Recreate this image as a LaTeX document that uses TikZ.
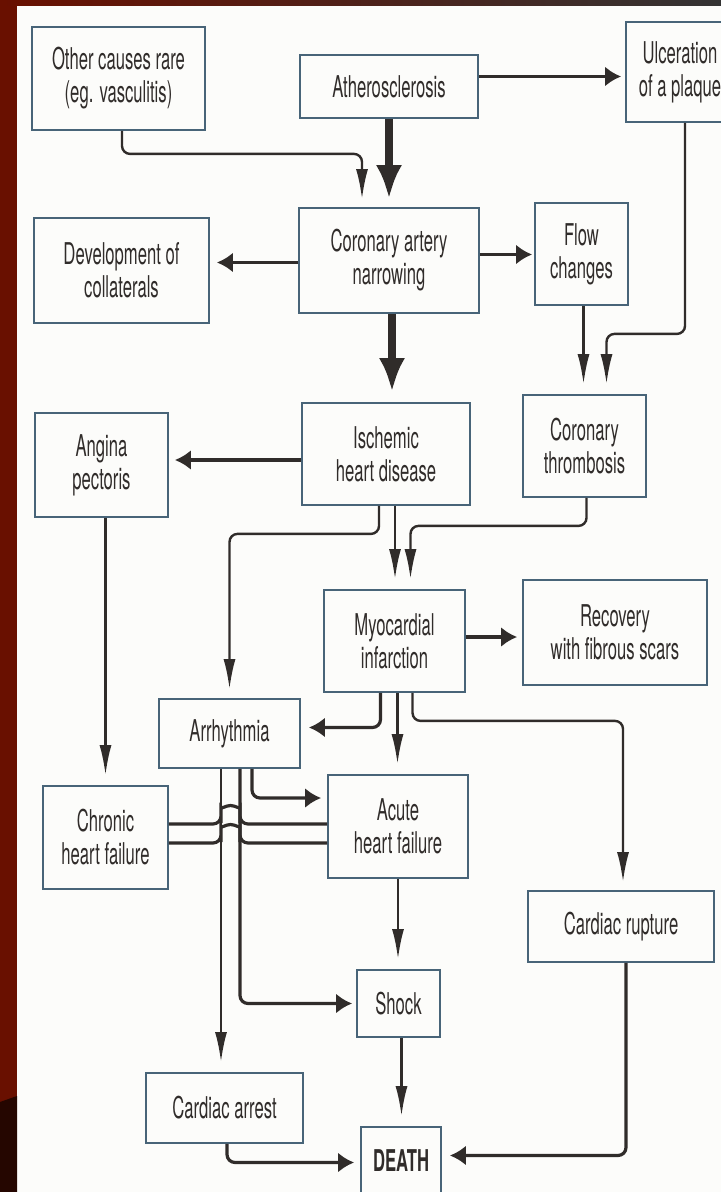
\documentclass[tikz,border=0pt]{standalone}
\usepackage{fontspec}
\setmainfont{TeX Gyre Heros}[FakeStretch=0.555]
\usepackage{tikz}
\usetikzlibrary{arrows.meta}

\definecolor{boxline}{RGB}{72,100,120}
\definecolor{ink}{RGB}{48,44,42}
\definecolor{slide}{RGB}{105,16,0}
\definecolor{paper}{RGB}{252,252,250}

\begin{document}
\begin{tikzpicture}[x=0.5pt,y=-0.5pt,font=\fontsize{15}{16.5}\selectfont,
  box/.style={draw=boxline,line width=0.9pt,fill=paper,inner sep=0pt,align=center,text=ink},
  link/.style={draw=ink,line width=1.2pt,rounded corners=4pt},
  vtip/.style={link,-{Latex[length=15pt,width=6pt]}},
  htip/.style={link,line width=1.6pt,-{Latex[length=8pt,width=10pt]}},
  bigtip/.style={draw=ink,line width=4pt,-{Latex[length=17pt,width=13pt]}}]
% page and slide frame
\clip (0,0) rectangle (721,1192);
\fill[paper] (0,0) rectangle (721,1192);
\fill[slide] (0,0) rectangle (17,1192);
\fill[slide!35!black] (0,1102) -- (17,1096) -- (17,1192) -- (0,1192) -- cycle;
\shade[left color=slide,right color=black!80] (0,0) rectangle (721,6);
% causes
\node[box,minimum width=86.5pt,minimum height=51.5pt] (oth) at (118.5,78.5) {Other causes rare\\(eg. vasculitis)};
\node[box,minimum width=89pt,minimum height=31.5pt] (ath) at (389,86.5) {Atherosclerosis};
\node[box,minimum width=54pt,minimum height=50pt] (ulc) at (680,72) {Ulceration\\of a plaque};
\node[box,minimum width=87.5pt,minimum height=52.5pt] (dev) at (121.5,270.5) {Development of\\collaterals};
\node[box,minimum width=90pt,minimum height=52.5pt] (can) at (389,260.5) {Coronary artery\\narrowing};
\node[box,minimum width=46.5pt,minimum height=51pt] (flow) at (581.5,254) {Flow\\changes};
% disease
\node[box,minimum width=66.5pt,minimum height=52pt] (ang) at (101.5,465) {Angina\\pectoris};
\node[box,minimum width=84pt,minimum height=51pt] (ihd) at (386,454) {Ischemic\\heart disease};
\node[box,minimum width=61.5pt,minimum height=51pt] (thr) at (584.5,446) {Coronary\\thrombosis};
\node[box,minimum width=70.5pt,minimum height=51pt] (mi) at (394.5,641) {Myocardial\\infarction};
\node[box,minimum width=92pt,minimum height=52.5pt] (rec) at (615,632.5) {Recovery\\with fibrous scars};
% outcomes
\node[box,minimum width=70.5pt,minimum height=34.5pt] (arr) at (229.5,733.5) {Arrhythmia};
\node[box,minimum width=62.5pt,minimum height=51.5pt] (chr) at (105.5,837.5) {Chronic\\heart failure};
\node[box,minimum width=70pt,minimum height=51.5pt] (ahf) at (398,826.5) {Acute\\heart failure};
\node[box,minimum width=93pt,minimum height=35.5pt] (rup) at (621,926.5) {Cardiac rupture};
\node[box,minimum width=41.5pt,minimum height=33.5pt] (shk) at (398.5,1003.5) {Shock};
\node[box,minimum width=78.5pt,minimum height=35pt] (arrst) at (224.5,1108) {Cardiac arrest};
\node[box,minimum width=40pt,minimum height=33.5pt] (dth) at (401,1160.5) {\bfseries DEATH};
% arrows, top part
\draw[bigtip,shorten >=4pt] (ath.south) -- (ath.south |- can.north);
\draw[vtip,shorten >=4pt] ([xshift=1.75pt]oth.south) -- ++(0,23) -| ([xshift=-13.5pt]can.north);
\draw[htip,shorten >=2pt] ([yshift=5pt]ath.east) -- ([yshift=5pt]ath.east -| ulc.west);
\draw[htip,shorten >=3.5pt] ([yshift=-1pt]can.west) -- ([yshift=-1pt]can.west -| dev.east);
\draw[htip,shorten >=1pt] ([yshift=3pt]can.east) -- ([yshift=3pt]can.east -| flow.west);
\draw[bigtip,shorten >=5pt] ([xshift=1.5pt]can.south) -- ([xshift=1.5pt]can.south |- ihd.north);
\draw[vtip,shorten >=5pt] ([xshift=1pt]flow.south) -- ([xshift=1pt]flow.south |- thr.north);
\draw[vtip,shorten >=5pt] ([xshift=2.5pt]ulc.south) -- ++(0,211) -| ([xshift=11pt]thr.north);
\draw[htip,shorten >=3pt] ([yshift=-3pt]ihd.west) -- ([yshift=-3pt]ihd.west -| ang.east);
\draw[vtip,shorten >=4.5pt] ([xshift=-3.5pt]ihd.south) -- ++(0,28) -| (arr.north);
\draw[vtip,shorten >=5pt] ([xshift=4.5pt]ihd.south) -- ([xshift=4.5pt]ihd.south |- mi.north);
\draw[vtip,shorten >=5pt] ([xshift=1pt]thr.south) -- ++(0,28) -| ([xshift=8pt]mi.north);
\draw[vtip,shorten >=5pt] ([xshift=2pt]ang.south) -- ([xshift=2pt]ang.south |- chr.north);
% arrows from the infarction
\draw[htip,shorten >=2.5pt] ([yshift=2pt]mi.east) -- ([yshift=2pt]mi.east -| rec.west);
\draw[htip,shorten >=4pt] ([xshift=-7pt]mi.south) |- ([yshift=3pt]arr.east);
\draw[vtip,shorten >=5pt] ([xshift=1.5pt]mi.south) -- ([xshift=1.5pt]mi.south |- ahf.north);
\draw[vtip,shorten >=4pt] ([xshift=9pt]mi.south) -- ++(0,28) -| ([xshift=1pt]rup.north);
% arrhythmia and heart failure
\coordinate (vL) at ([xshift=-4.25pt]arr.south);
\coordinate (vR) at ([xshift=5.25pt]arr.south);
\draw[vtip,shorten >=5pt] (vL) -- (vL |- arrst.north);
\draw[htip,shorten >=2pt] (vR) |- (shk.west);
\draw[htip,shorten >=3pt] ([xshift=11.25pt]arr.south) |- ([yshift=14.25pt]ahf.west);
\coordinate (hA) at ([yshift=6.75pt]chr.east);
\coordinate (hB) at ([yshift=-2.75pt]chr.east);
\draw[link,line width=1.6pt] (hA) -- (hA -| vL) -- ++(0,-9) arc[start angle=180,end angle=360,radius=9.5] -- ++(0,9) -- (hA -| ahf.west);
\draw[link,line width=1.6pt] (hB) -- (hB -| vL) -- ++(0,-9) arc[start angle=180,end angle=360,radius=9.5] -- ++(0,9) -- (hB -| ahf.west);
% to death
\draw[vtip,shorten >=5pt] (ahf.south) -- (ahf.south |- shk.north);
\draw[vtip,shorten >=5pt] ([xshift=1.5pt]shk.south) -- ([xshift=1.5pt]shk.south |- dth.north);
\draw[htip,shorten >=3pt] ([xshift=1.25pt]arrst.south) |- ([yshift=-1pt]dth.west);
\draw[htip,shorten >=4pt] ([xshift=2.5pt]rup.south) |- ([yshift=2.5pt]dth.east);
\end{tikzpicture}
\end{document}
